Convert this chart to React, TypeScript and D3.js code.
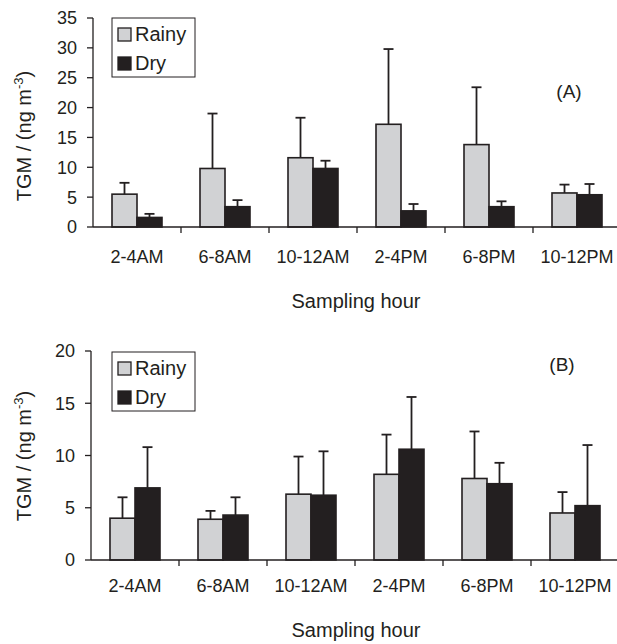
import * as d3 from 'd3';
import React from 'react';

const hours = ['2-4AM', '6-8AM', '10-12AM', '2-4PM', '6-8PM', '10-12PM'];
const seasons = ['Rainy', 'Dry'];

const rainyA = [5.5, 9.8, 11.6, 17.2, 13.8, 5.7];
const rainyErrA = [1.9, 9.2, 6.7, 12.6, 9.6, 1.4];
const dryA = [1.6, 3.4, 9.8, 2.7, 3.4, 5.4];
const dryErrA = [0.6, 1.1, 1.3, 1.15, 0.9, 1.8];

const rainyB = [4.0, 3.9, 6.3, 8.2, 7.8, 4.5];
const rainyErrB = [2.0, 0.8, 3.6, 3.8, 4.5, 2.0];
const dryB = [6.9, 4.3, 6.2, 10.6, 7.3, 5.2];
const dryErrB = [3.9, 1.7, 4.2, 5.0, 2.0, 5.8];

const ticksA = [0, 5, 10, 15, 20, 25, 30, 35];
const ticksB = [0, 5, 10, 15, 20];

const FONT = '"Liberation Sans", Arial, sans-serif';
const INK = '#231f20';
const LIGHT = '#d1d2d4';

type PanelProps = {
  rainy: number[];
  rainyErr: number[];
  dry: number[];
  dryErr: number[];
  ticks: number[];
  left: number;
  top: number;
  bottom: number;
  tag: string;
  tagX: number;
  tagY: number;
  legendTop: number;
  catY: number;
  titleY: number;
  labelY: number;
};

function Panel(p: PanelProps) {
  const y = d3.scaleLinear().domain([0, d3.max(p.ticks) as number]).range([p.bottom, p.top]);
  const x = d3.scaleBand().domain(hours).range([p.left, p.left + 88 * hours.length]);
  const inner = d3.scaleBand().domain(seasons).range([0, 50]);
  const off = (x.bandwidth() - 50) / 2;
  const series = [
    { key: 'Rainy', vals: p.rainy, errs: p.rainyErr, fill: LIGHT },
    { key: 'Dry', vals: p.dry, errs: p.dryErr, fill: INK },
  ];
  const bw = inner.bandwidth();

  return (
    <g>
      {/* y axis */}
      <line x1={p.left} x2={p.left} y1={p.top} y2={p.bottom} stroke={INK} strokeWidth={1.3} />
      {p.ticks.map(t => (
        <g key={t}>
          <line x1={p.left - 6} x2={p.left} y1={y(t)} y2={y(t)} stroke={INK} strokeWidth={1.3} />
          <text x={p.left - 16} y={y(t)} dy="0.36em" textAnchor="end" fontSize={18} fill={INK}>{t}</text>
        </g>
      ))}
      <text
        transform={`translate(31,${p.labelY}) rotate(-90)`}
        textAnchor="middle" fontSize={20} fill={INK}
      >
        TGM / (ng m<tspan dy={-8} fontSize={13}>-3</tspan><tspan dy={8}>)</tspan>
      </text>

      {/* bars */}
      {series.map(s => (
        <g key={s.key}>
          {hours.map((h, i) => {
            const bx = (x(h) as number) + off + (inner(s.key) as number);
            const cx = bx + bw / 2;
            const top = y(s.vals[i]);
            const et = y(s.vals[i] + s.errs[i]);
            return (
              <g key={h}>
                <line x1={cx} x2={cx} y1={top} y2={et} stroke={INK} strokeWidth={1.8} />
                <line x1={cx - 5} x2={cx + 5} y1={et} y2={et} stroke={INK} strokeWidth={1.8} />
                <rect x={bx} y={top} width={bw} height={p.bottom - top}
                  fill={s.fill} stroke={INK} strokeWidth={1.6} />
              </g>
            );
          })}
        </g>
      ))}

      {/* x axis */}
      <line x1={p.left} x2={617} y1={p.bottom} y2={p.bottom} stroke={INK} strokeWidth={1.3} />
      {hours.slice(1).map(h => (
        <line key={h} x1={x(h)} x2={x(h)} y1={p.bottom} y2={p.bottom + 6} stroke={INK} strokeWidth={1.3} />
      ))}
      {hours.map(h => (
        <text key={h} x={(x(h) as number) + x.bandwidth() / 2} y={p.catY} textAnchor="middle" fontSize={18} fill={INK}>{h}</text>
      ))}
      <text x={356} y={p.titleY} textAnchor="middle" fontSize={20} fill={INK}>Sampling hour</text>

      {/* legend */}
      <rect x={112} y={p.legendTop} width={83} height={59} fill="white" stroke={INK} strokeWidth={1} />
      {series.map((s, i) => (
        <g key={s.key}>
          <rect x={118} y={p.legendTop + 10 + i * 29} width={13} height={13}
            fill={s.fill} stroke={INK} strokeWidth={1.3} />
          <text x={135} y={p.legendTop + 23 + i * 29} fontSize={20} fill={INK}>{s.key}</text>
        </g>
      ))}

      <text x={p.tagX} y={p.tagY} textAnchor="middle" fontSize={19} fill={INK}>{p.tag}</text>
    </g>
  );
}

export default function App() {
  return (
    <svg width={617} height={644} style={{ position: 'absolute', left: 0, top: 0, background: 'white' }}
      fontFamily={FONT}>
      <Panel
        rainy={rainyA} rainyErr={rainyErrA} dry={dryA} dryErr={dryErrA} ticks={ticksA}
        left={93} top={18} bottom={227} tag="(A)" tagX={569} tagY={98}
        legendTop={18} catY={263} titleY={308} labelY={136}
      />
      <Panel
        rainy={rainyB} rainyErr={rainyErrB} dry={dryB} dryErr={dryErrB} ticks={ticksB}
        left={91} top={351} bottom={560} tag="(B)" tagX={562} tagY={371}
        legendTop={352} catY={592} titleY={637} labelY={456}
      />
    </svg>
  );
}
